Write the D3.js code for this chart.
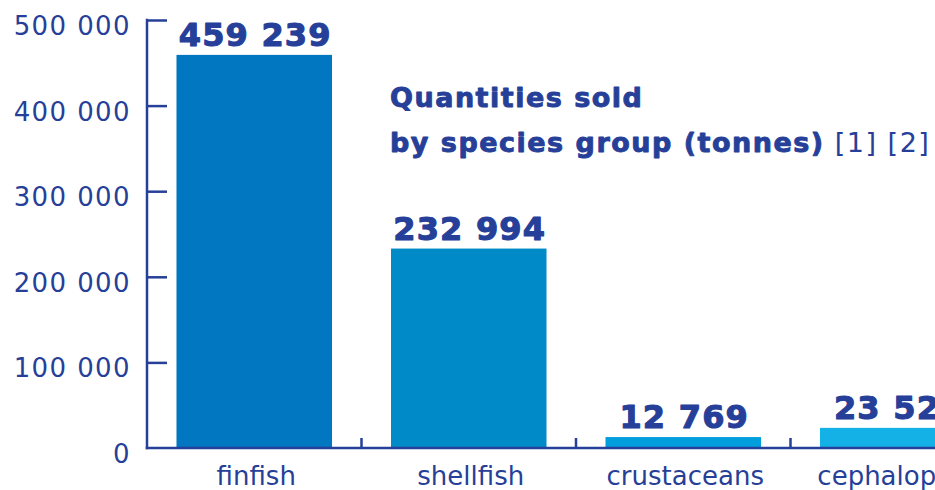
<!DOCTYPE html>
<html>
<head>
<meta charset="utf-8">
<script src="https://cdn.jsdelivr.net/npm/d3@7"></script>
<style>
  html, body { margin: 0; padding: 0; background: #fff; overflow: hidden; }
  svg { display: block; }
</style>
</head>
<body>
<svg id="chart" width="935" height="490"></svg>
<script>
const categories = ["finfish", "shellfish", "crustaceans", "cephalopods"];
const values = [459239, 232994, 12769, 23525];
const valueLabels = ["459 239", "232 994", "12 769", "23 525"];
const yTicks = [0, 100000, 200000, 300000, 400000, 500000];
const yTickLabels = ["0", "100 000", "200 000", "300 000", "400 000", "500 000"];
const barColors = ["#0077c0", "#008ac8", "#009edd", "#14b1e7"];
const titleLine1 = "Quantities sold";
const titleLine2Bold = "by species group (tonnes)";
const titleLine2Notes = " [1] [2]";

const ink = "#263f98";
const svg = d3.select("#chart");

const x0 = 147, step = 214.5;
const x = d3.scaleBand()
  .domain(categories)
  .range([x0, x0 + step * categories.length])
  .paddingInner(0.275)
  .paddingOuter(0.1375);
const y = d3.scaleLinear().domain([0, 500000]).range([448, 20]);

// bars
svg.selectAll("rect.bar").data(categories).join("rect")
  .attr("class", "bar")
  .attr("x", d => x(d))
  .attr("width", x.bandwidth())
  .attr("y", (d, i) => y(values[i]))
  .attr("height", (d, i) => y(0) - y(values[i]))
  .attr("fill", (d, i) => barColors[i]);

// value labels
svg.selectAll("text.val").data(categories).join("text")
  .attr("class", "val")
  .attr("x", d => x(d) + x.bandwidth() / 2 + 1)
  .attr("y", (d, i) => y(values[i]) - 9)
  .attr("text-anchor", "middle")
  .attr("font-family", "DejaVu Sans")
  .attr("font-weight", "bold")
  .attr("font-size", 32)
  .attr("letter-spacing", 1.2)
  .attr("fill", ink)
  .attr("stroke", ink)
  .attr("stroke-width", 1.1)
  .attr("stroke-linejoin", "round")
  .text((d, i) => valueLabels[i]);

// y axis
const yAxis = d3.axisRight(y).tickValues(yTicks.slice(1)).tickSize(20).tickFormat("");
const gy = svg.append("g").attr("transform", `translate(${x0},0)`).call(yAxis);
gy.select(".domain").remove();
gy.selectAll(".tick line").attr("stroke", ink).attr("stroke-width", 2.5);
svg.append("line")
  .attr("x1", x0).attr("x2", x0)
  .attr("y1", y(500000) - 1.25).attr("y2", y(0) + 1.25)
  .attr("stroke", ink).attr("stroke-width", 2.5);

svg.selectAll("text.ytl").data(yTicks).join("text")
  .attr("class", "ytl")
  .attr("x", 131)
  .attr("y", d => y(d) + 15)
  .attr("text-anchor", "end")
  .attr("font-family", "DejaVu Sans")
  .attr("font-size", 26)
  .attr("letter-spacing", 1.4)
  .attr("fill", ink)
  .text((d, i) => yTickLabels[i]);

// x axis baseline
svg.append("line")
  .attr("x1", x0 - 1.25).attr("x2", x0 + step * categories.length)
  .attr("y1", y(0)).attr("y2", y(0))
  .attr("stroke", ink).attr("stroke-width", 2.5);

// category separator ticks
svg.selectAll("line.sep").data(categories.slice(1)).join("line")
  .attr("class", "sep")
  .attr("x1", d => x(d) - x.step() * x.paddingInner() / 2)
  .attr("x2", d => x(d) - x.step() * x.paddingInner() / 2)
  .attr("y1", y(0)).attr("y2", y(0) - 10)
  .attr("stroke", ink).attr("stroke-width", 2.5);

// category labels
svg.selectAll("text.cat").data(categories).join("text")
  .attr("class", "cat")
  .attr("x", d => x(d) + x.bandwidth() / 2 + 2)
  .attr("y", 485)
  .attr("text-anchor", "middle")
  .attr("font-family", "DejaVu Sans")
  .attr("font-size", 26)
  .attr("fill", ink)
  .text(d => d);

// title
svg.append("text")
  .attr("x", 390).attr("y", 107)
  .attr("font-family", "DejaVu Sans")
  .attr("font-weight", "bold")
  .attr("font-size", 27)
  .attr("letter-spacing", 1.5)
  .attr("fill", ink)
  .attr("stroke", ink)
  .attr("stroke-width", 0.9)
  .attr("stroke-linejoin", "round")
  .text(titleLine1);
const t2 = svg.append("text")
  .attr("x", 390).attr("y", 152)
  .attr("font-family", "DejaVu Sans")
  .attr("font-size", 27)
  .attr("letter-spacing", 1.5)
  .attr("fill", ink);
t2.append("tspan").attr("font-weight", "bold")
  .attr("stroke", ink).attr("stroke-width", 0.9).attr("stroke-linejoin", "round")
  .text(titleLine2Bold);
t2.append("tspan").attr("font-weight", "normal").text(titleLine2Notes);
</script>
</body>
</html>
